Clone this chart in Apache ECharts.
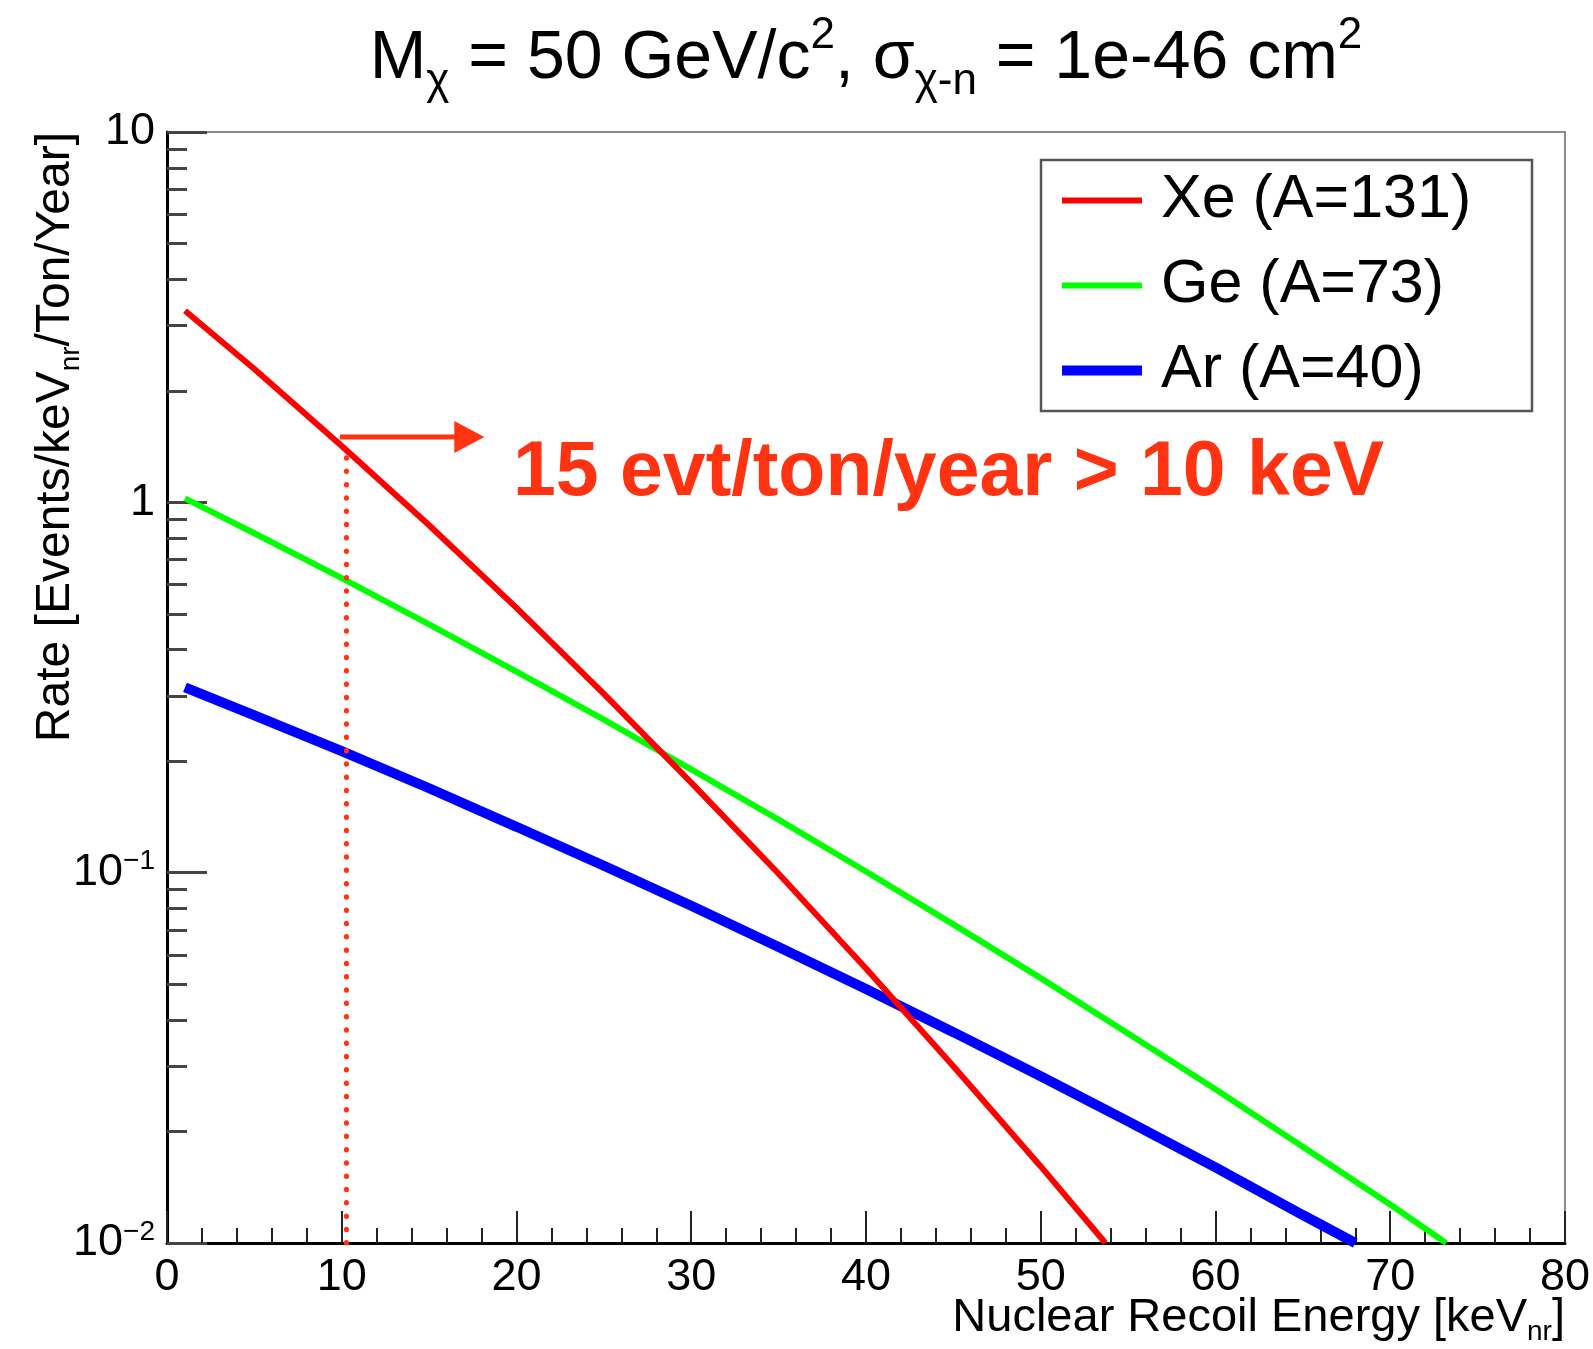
<!DOCTYPE html>
<html>
<head>
<meta charset="utf-8">
<script src="https://cdn.jsdelivr.net/npm/echarts@6/dist/echarts.min.js"></script>
<style>
  html, body { margin: 0; padding: 0; background: #fff; }
  #main { width: 1593px; height: 1349px; }
</style>
</head>
<body>
<div id="main"></div>
<script>
var FONT = '"Liberation Sans", Arial, Helvetica, sans-serif';

// recoil spectra
var xeEnergy = [1.03, 5, 10, 15, 20, 25, 30, 35, 40, 45, 50, 53.7];
var xeRate   = [3.29, 2.29, 1.42, 0.867, 0.519, 0.304, 0.175, 0.0993, 0.0551, 0.0300, 0.0161, 0.0100];

var geEnergy = [1.03, 5, 10, 15, 20, 25, 30, 35, 40, 45, 50, 55, 60, 65, 70, 73.2];
var geRate   = [1.025, 0.825, 0.624, 0.468, 0.349, 0.259, 0.190, 0.139, 0.1007, 0.0725, 0.0519, 0.0368, 0.0260, 0.0182, 0.0127, 0.0100];

var arEnergy = [1.03, 5, 10, 15, 20, 25, 30, 35, 40, 45, 50, 55, 60, 65, 68.0];
var arRate   = [0.3165, 0.266, 0.213, 0.169, 0.133, 0.1044, 0.0814, 0.0630, 0.0485, 0.0371, 0.0282, 0.0213, 0.0160, 0.0119, 0.0100];

var seriesNames = ['Xe (A=131)', 'Ge (A=73)', 'Ar (A=40)'];

// threshold marker (10 keV cut on Xe)
var cutEnergy = [10.27, 10.27];
var cutRate   = [0.01, 1.39];
var arrowEnergy = [9.9, 17.3];
var arrowRate   = [1.5, 1.5];

// y axis minor ticks
var yMinorTicks = [0.02, 0.03, 0.04, 0.05, 0.06, 0.07, 0.08, 0.09,
                   0.2, 0.3, 0.4, 0.5, 0.6, 0.7, 0.8, 0.9,
                   2, 3, 4, 5, 6, 7, 8, 9];

function pairs(xs, ys) {
  return xs.map(function (x, i) { return [x, ys[i]]; });
}

var myChart = echarts.init(document.getElementById('main'));

var option = {
  animation: false,
  backgroundColor: '#fff',
  title: {
    text: '{t|M}{sub|χ}{t| = 50 GeV/c}{sup|2}{t|, σ}{sub|χ-n}{t| = 1e-46 cm}{sup|2}',
    left: 866,
    top: 14,
    textAlign: 'center',
    padding: 0,
    textStyle: {
      fontWeight: 'normal',
      rich: {
        t:   { fontSize: 68, fontFamily: FONT, fontWeight: 'normal', color: '#000', lineHeight: 90 },
        sub: { fontSize: 44, fontFamily: FONT, fontWeight: 'normal', color: '#000', lineHeight: 18, verticalAlign: 'bottom' },
        sup: { fontSize: 44, fontFamily: FONT, fontWeight: 'normal', color: '#000', lineHeight: 54, verticalAlign: 'top' }
      }
    }
  },
  legend: {
    orient: 'vertical',
    left: 1062,
    top: 170,
    padding: 0,
    itemWidth: 80,
    itemHeight: 12,
    itemGap: 24,
    selectedMode: false,
    textStyle: { fontSize: 61, fontFamily: FONT, color: '#000', lineHeight: 61, padding: [0, 0, 0, 14] },
    data: [
      { name: seriesNames[0], icon: 'path://M0,0H80V6H0Z' },
      { name: seriesNames[1], icon: 'path://M0,0H80V6H0Z' },
      { name: seriesNames[2], icon: 'path://M0,0H80V10H0Z' }
    ]
  },
  grid: {
    left: 167, right: 26, top: 132, bottom: 106,
    show: true, borderColor: '#8a8a8a', borderWidth: 2
  },
  xAxis: {
    type: 'value',
    min: 0, max: 80, interval: 10,
    axisLine: { show: true, onZero: false, lineStyle: { color: '#000', width: 3 } },
    axisTick: { inside: true, length: 32, lineStyle: { color: '#222', width: 2 } },
    minorTick: { show: true, splitNumber: 5, length: 15, lineStyle: { color: '#222', width: 2 } },
    splitLine: { show: false },
    axisLabel: { fontSize: 45, fontFamily: FONT, color: '#000', margin: 12 }
  },
  yAxis: [
    {
      type: 'log', logBase: 10,
      min: 0.01, max: 10,
      axisLine: { show: true, onZero: false, lineStyle: { color: '#000', width: 3 } },
      axisTick: { inside: true, length: 40, lineStyle: { color: '#444', width: 3 } },
      splitLine: { show: false },
      axisLabel: {
        margin: 12,
        formatter: function (v) {
          var p = Math.round(Math.log10(v));
          if (p === 0) return '{n|1}';
          if (p === 1) return '{n|10}';
          return '{n|10}{e|\u2212' + (-p) + '}';
        },
        rich: {
          n: { fontSize: 45, fontFamily: FONT, color: '#000', lineHeight: 50 },
          e: { fontSize: 28, fontFamily: FONT, color: '#000', lineHeight: 24, verticalAlign: 'top' }
        }
      }
    },
    {
      // only carries the minor ticks of the log axis
      type: 'value',
      min: -2, max: 1,
      position: 'left', offset: 0,
      axisLine: { show: false },
      splitLine: { show: false },
      axisLabel: { show: false },
      axisTick: {
        show: true, inside: true, length: 20,
        customValues: yMinorTicks.map(function (v) { return Math.log10(v); }),
        lineStyle: { color: '#444', width: 3 }
      }
    }
  ],
  series: [
    {
      name: seriesNames[0], type: 'line', yAxisIndex: 0,
      data: pairs(xeEnergy, xeRate), showSymbol: false, symbol: 'none',
      color: '#ff0000', lineStyle: { color: '#ff0000', width: 6 }, z: 4
    },
    {
      name: seriesNames[1], type: 'line', yAxisIndex: 0,
      data: pairs(geEnergy, geRate), showSymbol: false, symbol: 'none',
      color: '#00ff00', lineStyle: { color: '#00ff00', width: 6 }, z: 3
    },
    {
      name: seriesNames[2], type: 'line', yAxisIndex: 0,
      data: pairs(arEnergy, arRate), showSymbol: false, symbol: 'none',
      color: '#0000ff', lineStyle: { color: '#0000ff', width: 10 }, z: 3
    },
    {
      name: 'cut', type: 'line', yAxisIndex: 0,
      data: pairs(cutEnergy, cutRate), symbol: 'none', silent: true,
      lineStyle: { color: '#ff3311', width: 5, type: [0.5, 12.8], cap: 'round' }, z: 5
    },
    {
      name: 'arrow', type: 'line', yAxisIndex: 0,
      data: [
        { value: [arrowEnergy[0], arrowRate[0]], symbol: 'none' },
        { value: [arrowEnergy[1], arrowRate[1]], symbol: 'triangle', symbolSize: [32, 30], symbolRotate: -90 }
      ],
      showSymbol: true, silent: true,
      itemStyle: { color: '#ff3311' },
      lineStyle: { color: '#ff3311', width: 5 }, z: 5
    }
  ],
  graphic: [
    {
      type: 'rect',
      shape: { x: 1041, y: 160, width: 491, height: 251 },
      style: { fill: 'none', stroke: '#555', lineWidth: 2.5 },
      z: 10
    },
    {
      type: 'text',
      x: 513, y: 474,
      style: {
        text: '15 evt/ton/year > 10 keV',
        fontSize: 77, fontWeight: 'bold', fontFamily: FONT,
        fill: '#ff3311', align: 'left', verticalAlign: 'middle'
      },
      z: 10
    },
    {
      type: 'text',
      x: 56, y: 132,
      rotation: Math.PI / 2,
      style: {
        text: '{m|Rate [Events/keV}{s|nr}{m|/Ton/Year]}',
        align: 'right', verticalAlign: 'middle',
        rich: {
          m: { fontSize: 48, fontFamily: FONT, fill: '#000', lineHeight: 58 },
          s: { fontSize: 28, fontFamily: FONT, fill: '#000', lineHeight: 20, verticalAlign: 'bottom' }
        }
      },
      z: 10
    },
    {
      type: 'text',
      x: 1565, y: 1318,
      style: {
        text: '{m|Nuclear Recoil Energy [keV}{s|nr}{m|]}',
        align: 'right', verticalAlign: 'middle',
        rich: {
          m: { fontSize: 47, fontFamily: FONT, fill: '#000', lineHeight: 56 },
          s: { fontSize: 28, fontFamily: FONT, fill: '#000', lineHeight: 18, verticalAlign: 'bottom' }
        }
      },
      z: 10
    }
  ]
};

myChart.setOption(option);
</script>
</body>
</html>
